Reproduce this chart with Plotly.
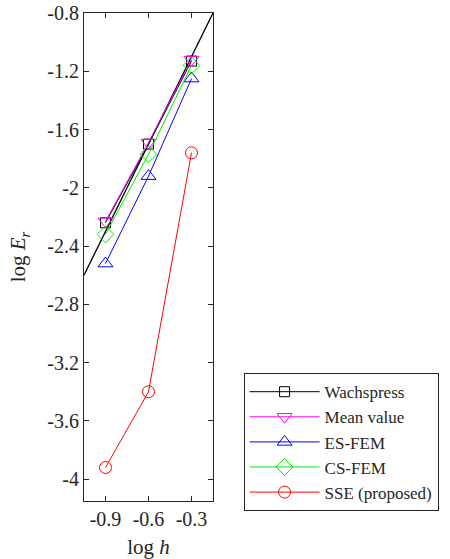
import plotly.graph_objects as go

log_h = [-0.9, -0.6, -0.3]
wachspress = [-2.24, -1.70, -1.13]
mean_value = [-2.23, -1.69, -1.12]
es_fem = [-2.52, -1.92, -1.25]
cs_fem = [-2.32, -1.77, -1.16]
sse = [-3.92, -3.40, -1.76]

ref_x = [-1.05, -0.15]
ref_y = [-2.6, -0.8]

y_ticks = [-0.8, -1.2, -1.6, -2.0, -2.4, -2.8, -3.2, -3.6, -4.0]
y_tick_text = ["-0.8", "-1.2", "-1.6", "-2", "-2.4", "-2.8", "-3.2", "-3.6", "-4"]
x_ticks = [-0.9, -0.6, -0.3]
x_tick_text = ["-0.9", "-0.6", "-0.3"]

FONT = "Liberation Serif"

fig = go.Figure()
fig.add_trace(go.Scatter(x=ref_x, y=ref_y, mode="lines", line=dict(color="black", width=1.3),
                         showlegend=False, hoverinfo="skip"))

series = [
    ("Wachspress", wachspress, "black", "square-open", 10),
    ("Mean value", mean_value, "#ff00ff", "triangle-down-open", 13),
    ("ES-FEM", es_fem, "#0000ff", "triangle-up-open", 13),
    ("CS-FEM", cs_fem, "#00ee00", "diamond-open", 13),
    ("SSE (proposed)", sse, "#ff0000", "circle-open", 12),
]
for name, ys, col, sym, sz in series:
    fig.add_trace(go.Scatter(x=log_h, y=ys, name=name, mode="lines+markers",
                             line=dict(color=col, width=1),
                             marker=dict(symbol=sym, size=sz, color=col, line=dict(width=1, color=col))))

fig.update_layout(
    width=450, height=559,
    margin=dict(l=84, r=235, t=13, b=58),
    paper_bgcolor="white", plot_bgcolor="white",
    font=dict(family=FONT, size=18, color="#262626"),
    legend=dict(x=1.237, y=0.262, xanchor="left", yanchor="top",
                bordercolor="#262626", borderwidth=1, bgcolor="white",
                font=dict(family=FONT, size=17, color="#262626"),
                tracegroupgap=0, itemwidth=70),
    xaxis=dict(range=[-1.05, -0.15], tickvals=x_ticks, ticktext=x_tick_text,
               tickfont=dict(family=FONT, size=20), automargin=False,
               showgrid=False, zeroline=False, showline=True, linecolor="#262626", linewidth=1,
               mirror="ticks", ticks="inside", ticklen=5, tickcolor="#262626",
               title=dict(text="log <i>h</i>", font=dict(family=FONT, size=21))),
    yaxis=dict(range=[-4.15, -0.8], tickvals=y_ticks, ticktext=y_tick_text,
               tickfont=dict(family=FONT, size=20), automargin=False,
               showgrid=False, zeroline=False, showline=True, linecolor="#262626", linewidth=1,
               mirror="ticks", ticks="inside", ticklen=5, tickcolor="#262626",
               title=dict(text="log <i>E</i><sub><i>r</i></sub>", font=dict(family=FONT, size=21))),
)

fig.write_html("out.html")
